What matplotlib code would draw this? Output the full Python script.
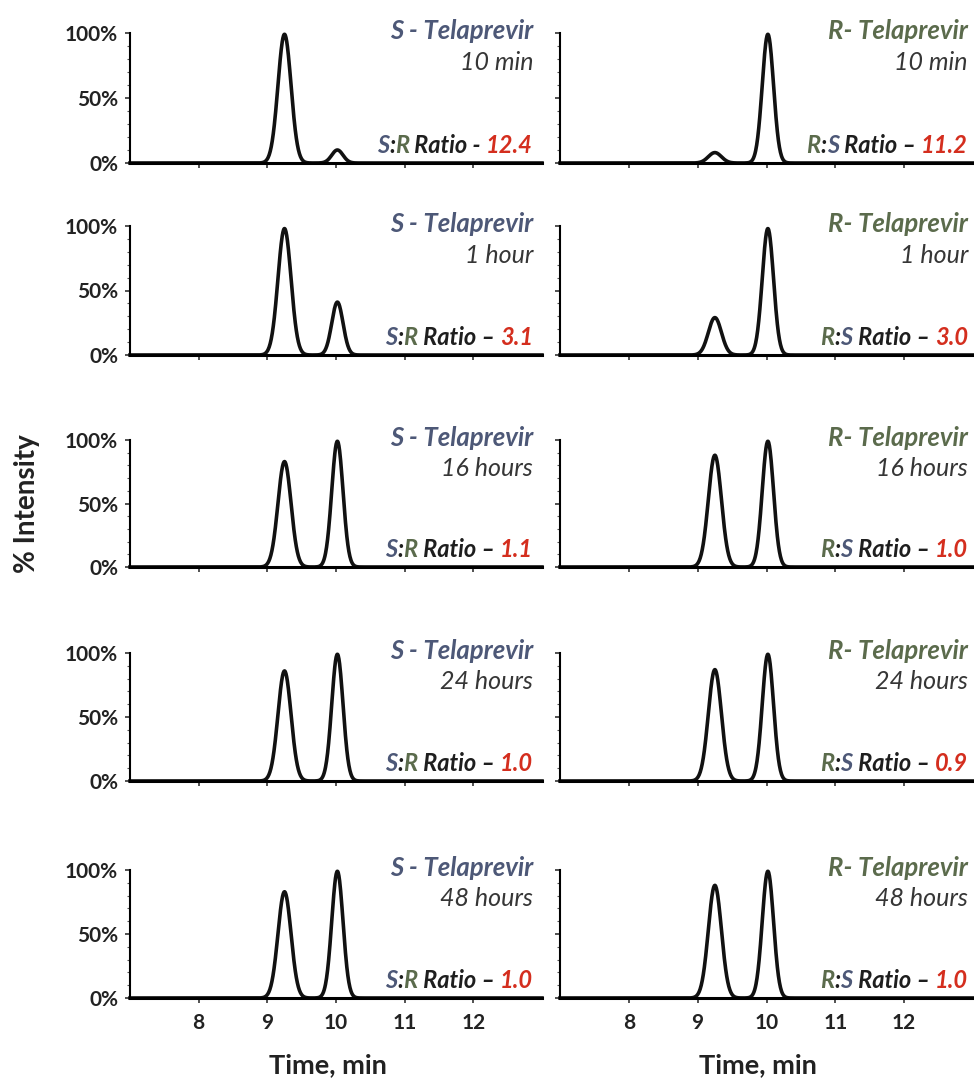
import numpy as np
import matplotlib as mpl
mpl.rcParams.update({'font.family': ['Lato', 'DejaVu Sans'], 'font.size': 13})
from matplotlib import pyplot as plt
from matplotlib.ticker import MultipleLocator, FuncFormatter

# peak retention times (min) and widths
RT_S = 9.25
RT_R = 10.02
SIG_S = 0.095
SIG_R = 0.082

times = ["10 min", "1 hour", "16 hours", "24 hours", "48 hours"]

# relative peak heights (S peak, R peak)
s_sample_s = [0.99, 0.98, 0.83, 0.86, 0.83]
s_sample_r = [0.10, 0.41, 0.99, 0.99, 0.99]
r_sample_s = [0.08, 0.29, 0.88, 0.87, 0.88]
r_sample_r = [0.99, 0.98, 0.99, 0.99, 0.99]

s_ratios = ["12.4", "3.1", "1.1", "1.0", "1.0"]
r_ratios = ["11.2", "3.0", "1.0", "0.9", "1.0"]
s_dash = ["-", "\u2013", "\u2013", "\u2013", "\u2013"]

S_COL = '#4d5877'
R_COL = '#5b6b4c'
T_COL = '#363636'
N_COL = '#d42e1e'
K_COL = '#1e1e1e'

W, H = 974, 1079
row_px = [(33, 163), (226, 355), (440, 567), (653, 781), (870, 998)]
col_px = [(130, 542), (560, 973)]
text_right = [533, 968]


def chromatogram(hs, hr):
    t = np.linspace(7.0, 13.0, 1200)
    y = hs * np.exp(-(t - RT_S) ** 2 / (2 * SIG_S ** 2))
    y += hr * np.exp(-(t - RT_R) ** 2 / (2 * SIG_R ** 2))
    return t, y


def rtext(ax, x, y, parts, size):
    prev = None
    for s, c in reversed(parts):
        kw = dict(color=c, fontsize=size, fontweight='bold', fontstyle='italic', ha='right')
        if prev is None:
            prev = ax.text(x, y, s, transform=ax.transAxes, va='baseline', **kw)
        else:
            prev = ax.annotate(s, xy=(0, 0), xycoords=prev, va='bottom', **kw)


def make_panel(fig, row, col, hs, hr, label, time, ratio_parts):
    (top, bot), (left, right) = row_px[row], col_px[col]
    ax = fig.add_axes([left / W, 1 - bot / H, (right - left) / W, (bot - top) / H])
    t, y = chromatogram(hs, hr)
    ax.plot(t, y, color='#111111', lw=2.6, clip_on=False)
    ax.set_xlim(7.0, 13.0)
    ax.set_ylim(0, 1)
    for s in ['top', 'right']:
        ax.spines[s].set_visible(False)
    ax.spines['left'].set_linewidth(1.5)
    ax.spines['bottom'].set_linewidth(2.2)
    ax.set_xticks([8, 9, 10, 11, 12])
    ax.yaxis.set_major_locator(MultipleLocator(0.5))
    ax.yaxis.set_minor_locator(MultipleLocator(0.1))
    ax.tick_params(axis='both', which='major', length=3.5, width=1.2, color='#333333')
    ax.tick_params(axis='y', which='minor', length=2, width=0.8, color='#555555')
    if col == 0:
        ax.yaxis.set_major_formatter(FuncFormatter(lambda v, p: f"{v:.0%}"))
        for lab in ax.get_yticklabels():
            lab.set_fontweight('bold')
        ax.tick_params(axis='y', labelsize=15, labelcolor='#222222', pad=5)
    else:
        ax.set_yticklabels([])
    if row == 4:
        ax.tick_params(axis='x', labelsize=15, labelcolor='#222222', pad=7)
        for lab in ax.get_xticklabels():
            lab.set_fontweight('bold')
        ax.set_xlabel("Time, min", fontsize=19.5, fontweight='bold', color='#222222')
        ax.xaxis.set_label_coords(0.48, -0.43)
    else:
        ax.set_xticklabels([])

    xr = (text_right[col] - left) / (right - left)
    col_lab = S_COL if col == 0 else R_COL
    ax.text(xr, 0.955, label, transform=ax.transAxes, ha='right', va='baseline',
            fontsize=18.5, fontweight='bold', fontstyle='italic', color=col_lab)
    ax.text(xr, 0.715, time, transform=ax.transAxes, ha='right', va='baseline',
            fontsize=18, fontstyle='italic', color=T_COL)
    rtext(ax, xr, 0.08, ratio_parts, 17)
    return ax


fig = plt.figure(figsize=(W / 100, H / 100), dpi=100)
for i in range(5):
    make_panel(fig, i, 0, s_sample_s[i], s_sample_r[i], "S - Telaprevir", times[i],
               [("S", S_COL), (":", K_COL), ("R", R_COL), (" Ratio " + s_dash[i] + " ", K_COL),
                (s_ratios[i], N_COL)])
    make_panel(fig, i, 1, r_sample_s[i], r_sample_r[i], "R- Telaprevir", times[i],
               [("R", R_COL), (":", K_COL), ("S", S_COL), (" Ratio \u2013 ", K_COL),
                (r_ratios[i], N_COL)])

fig.text(27 / W, 1 - 504 / H, "% Intensity", rotation=90, ha='center', va='center',
         fontsize=20, fontweight='bold', color='#222222')

fig.savefig("out.png", dpi=100)
